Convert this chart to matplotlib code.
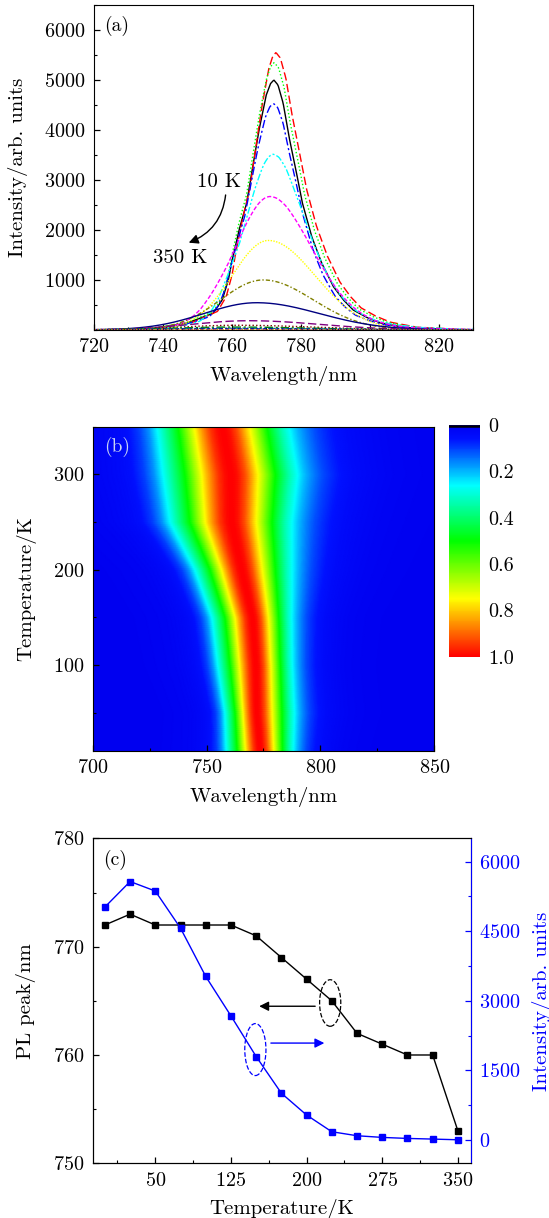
import numpy as np
import matplotlib
matplotlib.use("Agg")
import matplotlib.pyplot as plt
from matplotlib.colors import LinearSegmentedColormap
from matplotlib.patches import Ellipse
from matplotlib.ticker import MultipleLocator

plt.rcParams['font.family'] = 'serif'
plt.rcParams['font.serif'] = ['cmr10']
plt.rcParams['mathtext.fontset'] = 'cm'
plt.rcParams['axes.formatter.use_mathtext'] = True
plt.rcParams['axes.unicode_minus'] = False

# (c) PL peak position and intensity vs temperature
temps = [0, 25, 50, 75, 100, 125, 150, 175, 200, 225, 250, 275, 300, 325, 350]
pl_peak = [772, 773, 772, 772, 772, 772, 771, 769, 767, 765, 762, 761, 760, 760, 753]
pl_int = [5020, 5570, 5365, 4565, 3525, 2675, 1800, 1010, 540, 180, 94, 58, 36, 22, 7]

# (a) spectra : peak, height, half widths (left / right), gaussian share of the line shape
spec_center = [772.2, 772.8, 772.3, 772.1, 772.0, 771.1, 770.6, 769.1, 767.2, 765.0, 762.0, 761.0, 760.0, 760.0, 753.0]
spec_amp = [5000, 5550, 5350, 4530, 3515, 2670, 1790, 1000, 545, 185, 94, 58, 36, 22, 7]
spec_left = [7.9, 7.6, 8.0, 8.3, 9.6, 12.1, 12.4, 14.5, 17.9, 20, 21, 22, 23, 24, 25]
spec_right = [8.3, 8.9, 8.8, 8.6, 11.5, 14.5, 16.0, 17.0, 21.3, 24, 25, 26, 27, 28, 29]
spec_gauss = [0, 0, 0, 0.2, 0.5, 0.8, 1, 1, 1, 1, 1, 1, 1, 1, 1]

# line shape of the 10 K spectrum (offset from peak in nm, normalised intensity)
prof_dx = [-45, -35, -25.3, -17.6, -15.0, -13.2, -12.3, -10.1, -7.9, -6.3, -4.3, -2.2, -1.0, 0,
           1.2, 2.7, 4.4, 6.4, 8.3, 11.0, 13.9, 14.9, 17.3, 20.2, 23, 27, 31, 38, 50, 60]
prof_y = [0, 0.006, 0.027, 0.067, 0.12, 0.2, 0.267, 0.4, 0.507, 0.64, 0.8, 0.94, 0.985, 1.0,
          0.98, 0.907, 0.773, 0.64, 0.507, 0.373, 0.267, 0.24, 0.173, 0.12, 0.08, 0.05, 0.028, 0.01, 0.002, 0]
base_hl, base_hr = 7.9, 8.3

# (b) normalised map rows : temperature, centre, half widths
heat_T = [10, 50, 100, 150, 200, 250, 300, 350]
heat_center = [773.7, 772.2, 771.9, 770.4, 765.6, 761.2, 760.9, 757.1]
heat_left = [10.1, 9.5, 11.4, 12.1, 13.9, 18.3, 20.2, 19.4]
heat_right = [9.7, 11.0, 10.6, 11.4, 14.7, 17.6, 19.4, 19.5]

line_colors = ['#000000', '#ff0000', '#00ff00', '#0000ff', '#00ffff', '#ff00ff', '#ffff00', '#808000',
               '#000080', '#800080', '#800000', '#008000', '#008080', '#0000a0', '#ff8000']
dash_list = [(), (6, 2.5), (1, 1.6), (6, 2, 1.5, 2), (5, 1.5, 1.5, 1.5, 1.5, 1.5), (3, 1.5), (1, 1),
             (3, 1.5, 1, 1.5), (), (6, 2.5), (1, 1.6), (6, 2, 1.5, 2), (5, 1.5, 1.5, 1.5, 1.5, 1.5),
             (3, 1.5), (1, 1)]


def line_shape(wl, c, hl, hr):
    d = wl - c
    s = np.where(d < 0, hl / base_hl, hr / base_hr)
    return np.interp(d / s, prof_dx, prof_y)


def gauss_shape(wl, c, hl, hr):
    d = wl - c
    h = np.where(d < 0, hl, hr)
    return np.exp(-np.log(2) * (d / h) ** 2)


wl = np.arange(700, 850.01, 0.25)

fig = plt.figure(figsize=(5.49, 12.18), dpi=100)

tick_kw = dict(direction='in', labelsize=14.5, width=0.9, pad=6)

# ---------------- (a)
ax_a = fig.add_axes([0.1712, 0.7291, 0.6904, 0.2668])
for i in range(len(spec_amp)):
    g = spec_gauss[i]
    y = spec_amp[i] * ((1 - g) * line_shape(wl, spec_center[i], spec_left[i], spec_right[i])
                       + g * gauss_shape(wl, spec_center[i], spec_left[i], spec_right[i]))
    ln, = ax_a.plot(wl, y, color=line_colors[i], lw=1.0)
    if dash_list[i]:
        ln.set_dashes(dash_list[i])
ax_a.set_xlim(720, 830)
ax_a.set_ylim(0, 6500)
ax_a.set_xticks(np.arange(720, 821, 20))
ax_a.xaxis.set_minor_locator(MultipleLocator(10))
ax_a.set_yticks(np.arange(1000, 6001, 1000))
ax_a.yaxis.set_minor_locator(MultipleLocator(500))
ax_a.tick_params(which='major', length=4, **tick_kw)
ax_a.tick_params(which='minor', direction='in', length=2.5, width=0.8)
ax_a.set_xlabel('Wavelength/nm', fontsize=15, labelpad=7)
ax_a.set_ylabel('Intensity/arb. units', fontsize=15, labelpad=12)
ax_a.text(0.061, 0.935, '(a)', transform=ax_a.transAxes, fontsize=14, ha='center', va='center')
ax_a.text(756.2, 2966, '10 K', fontsize=15, ha='center', va='center')
ax_a.text(745.0, 1434, '350 K', fontsize=15, ha='center', va='center')
ax_a.annotate('', xy=(747.5, 1746), xytext=(758.2, 2700),
              arrowprops=dict(arrowstyle='-|>', color='k', lw=1.0, mutation_scale=14,
                              connectionstyle='arc3,rad=-0.3', shrinkA=0, shrinkB=0))

# ---------------- (b)
ax_b = fig.add_axes([0.169, 0.3834, 0.6219, 0.2663])
t_rows = np.arange(10, 350.1, 2)
c_rows = np.interp(t_rows, heat_T, heat_center)
l_rows = np.interp(t_rows, heat_T, heat_left)
r_rows = np.interp(t_rows, heat_T, heat_right)
Z = np.array([0.5 * line_shape(wl, c_rows[k], l_rows[k], r_rows[k])
              + 0.5 * gauss_shape(wl, c_rows[k], l_rows[k], r_rows[k]) for k in range(len(t_rows))])
Z = Z / Z.max(axis=1, keepdims=True)
cmap = LinearSegmentedColormap.from_list('pl', [(0, '#0000f0'), (0.06, '#0010ff'), (0.26, '#00ffff'),
                                                (0.5, '#00ff00'), (0.75, '#ffff00'), (1, '#ff0000')])
mesh = ax_b.pcolormesh(wl, t_rows, Z, shading='gouraud', cmap=cmap, vmin=0, vmax=1)
ax_b.set_xlim(700, 850)
ax_b.set_ylim(10, 350)
ax_b.set_xticks([700, 750, 800, 850])
ax_b.xaxis.set_minor_locator(MultipleLocator(25))
ax_b.set_yticks([100, 200, 300])
ax_b.yaxis.set_minor_locator(MultipleLocator(50))
ax_b.tick_params(which='major', length=4, **tick_kw)
ax_b.tick_params(which='minor', direction='in', length=2.5, width=0.8)
ax_b.set_xlabel('Wavelength/nm', fontsize=15, labelpad=7)
ax_b.set_ylabel('Temperature/K', fontsize=15, labelpad=12)
ax_b.text(0.072, 0.938, '(b)', transform=ax_b.transAxes, fontsize=14, ha='center', va='center',
          color='#c8d4f4')

cax = fig.add_axes([0.8179, 0.4608, 0.0565, 0.1903])
cb = fig.colorbar(mesh, cax=cax)
cb.set_ticks([0, 0.2, 0.4, 0.6, 0.8, 1.0])
cb.set_ticklabels(['0', '0.2', '0.4', '0.6', '0.8', '1.0'])
cax.invert_yaxis()
cb.outline.set_visible(False)
cax.axhline(0.004, color='black', lw=1.8)
cax.tick_params(length=0, labelsize=14.5, pad=6)

# ---------------- (c)
ax_c = fig.add_axes([0.169, 0.0449, 0.6889, 0.2668])
ax_c.plot(temps, pl_peak, color='k', lw=1.0, marker='s', ms=4.6)
ax_c.set_xlim(-12, 363)
ax_c.set_ylim(750, 780)
ax_c.set_xticks([50, 125, 200, 275, 350])
ax_c.set_xticks([12.5, 87.5, 162.5, 237.5, 312.5], minor=True)
ax_c.set_yticks([750, 760, 770, 780])
ax_c.yaxis.set_minor_locator(MultipleLocator(5))
ax_c.tick_params(which='major', length=4, **tick_kw)
ax_c.tick_params(which='minor', direction='in', length=2.5, width=0.8)
ax_c.set_xlabel('Temperature/K', fontsize=15, labelpad=7)
ax_c.set_ylabel('PL peak/nm', fontsize=15, labelpad=12)
ax_c.text(0.06, 0.933, '(c)', transform=ax_c.transAxes, fontsize=14, ha='center', va='center')
ax_c.add_patch(Ellipse((223.4, 764.8), 21, 4.3, fill=False, ec='k', ls='--', lw=0.9))
ax_c.add_patch(Ellipse((149.2, 760.5), 21, 4.8, fill=False, ec='blue', ls='--', lw=0.9))
ax_c.annotate('', xy=(153, 764.5), xytext=(208.5, 764.5),
              arrowprops=dict(arrowstyle='-|>', color='k', lw=1.0, mutation_scale=14, shrinkA=0, shrinkB=0))
ax_c.annotate('', xy=(217.6, 761.1), xytext=(164.6, 761.1),
              arrowprops=dict(arrowstyle='-|>', color='blue', lw=1.0, mutation_scale=14, shrinkA=0, shrinkB=0))

ax_r = ax_c.twinx()
ax_r.plot(temps, pl_int, color='blue', lw=1.0, marker='s', ms=4.6)
ax_r.set_ylim(-500, 6500)
ax_r.set_yticks([0, 1500, 3000, 4500, 6000])
ax_r.set_yticks([750, 2250, 3750, 5250], minor=True)
ax_r.tick_params(which='major', length=4, colors='blue', **tick_kw)
ax_r.tick_params(which='minor', direction='in', length=2.5, width=0.8, colors='blue')
ax_r.spines['right'].set_color('blue')
ax_r.set_ylabel('Intensity/arb. units', fontsize=15, color='blue', labelpad=8)

fig.savefig('out.png', dpi=100)
